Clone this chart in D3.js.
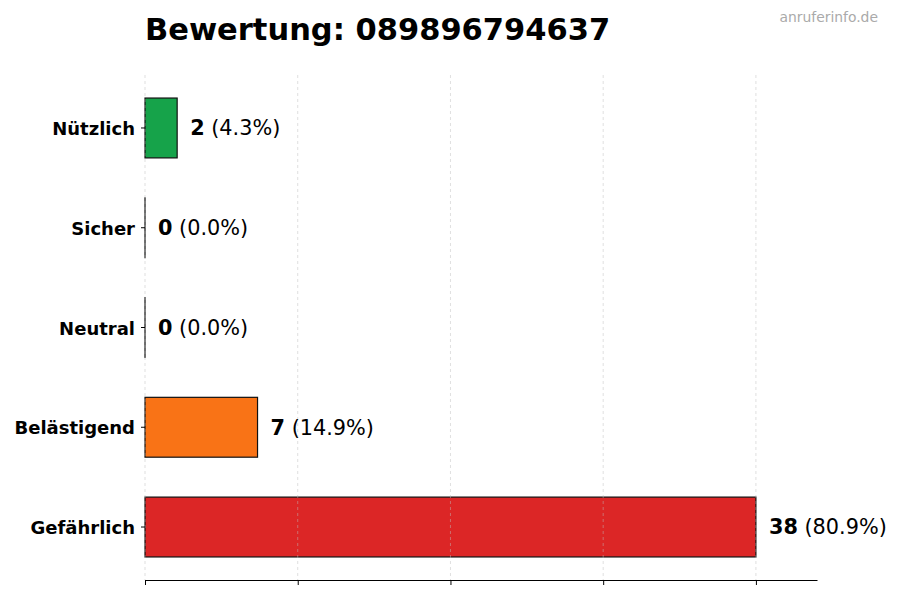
<!DOCTYPE html>
<html lang="de">
<head>
<meta charset="UTF-8">
<title>Bewertung</title>
<script src="https://d3js.org/d3.v7.min.js"></script>
<style>
  body { margin: 0; background: #fff; font-family: "DejaVu Sans", sans-serif; }
  svg { display: block; }
</style>
</head>
<body>
<div id="chart"></div>
<script>
// data
const categories = ["Nützlich", "Sicher", "Neutral", "Belästigend", "Gefährlich"];
const counts = [2, 0, 0, 7, 38];
const percents = ["4.3", "0.0", "0.0", "14.9", "80.9"];
const colors = ["#16a34a", "#22c55e", "#9ca3af", "#f97316", "#dc2626"];
const title = "Bewertung: 089896794637";
const watermark = "anruferinfo.de";

const W = 900, H = 600;
const plot = { left: 145, right: 817, top: 75, bottom: 580 };

const svg = d3.select("#chart").append("svg")
    .attr("width", W).attr("height", H);

const maxVal = d3.max(counts);
const x = d3.scaleLinear()
    .domain([0, maxVal * 1.1])
    .range([plot.left, plot.right]);

const y = d3.scaleBand()
    .domain(categories)
    .range([plot.top, plot.bottom])
    .paddingInner(0.4)
    .paddingOuter(0.231);

const gridTicks = d3.range(0, 5).map(i => maxVal * i / 4);

// bars (zero bars keep a hairline so the edge still shows)
svg.append("g").selectAll("rect")
    .data(categories)
    .join("rect")
    .attr("x", x(0))
    .attr("y", d => y(d))
    .attr("width", (d, i) => Math.max(x(counts[i]) - x(0), 0.01))
    .attr("height", y.bandwidth())
    .attr("fill", (d, i) => colors[i])
    .attr("stroke", "#111")
    .attr("stroke-width", 1.2);

// grid over bars
svg.append("g").selectAll("line")
    .data(gridTicks)
    .join("line")
    .attr("x1", d => x(d)).attr("x2", d => x(d))
    .attr("y1", plot.top).attr("y2", plot.bottom)
    .attr("stroke", "#bbb")
    .attr("stroke-opacity", 0.6)
    .attr("stroke-width", 0.8)
    .attr("stroke-dasharray", "3,3");

// bottom axis (no labels)
const xAxis = svg.append("g")
    .attr("transform", `translate(0,${plot.bottom})`)
    .call(d3.axisBottom(x).tickValues(gridTicks).tickFormat("").tickSize(5).tickSizeOuter(0));
xAxis.select(".domain").attr("stroke", "#000").attr("stroke-width", 1.2);
xAxis.selectAll(".tick line").attr("stroke", "#000").attr("stroke-width", 1);

// left axis: ticks and labels only
const yAxis = svg.append("g")
    .attr("transform", `translate(${plot.left},0)`)
    .call(d3.axisLeft(y).tickSize(4).tickPadding(6).tickSizeOuter(0));
yAxis.select(".domain").remove();
yAxis.selectAll(".tick line").attr("stroke", "#000");
yAxis.selectAll(".tick text")
    .attr("font-family", "DejaVu Sans")
    .attr("font-size", 18)
    .attr("font-weight", "bold")
    .attr("dy", "0.4em")
    .attr("fill", "#000");

// value labels
const lbl = svg.append("g").selectAll("text")
    .data(categories)
    .join("text")
    .attr("x", (d, i) => x(counts[i]) + 13)
    .attr("y", d => y(d) + y.bandwidth() / 2)
    .attr("dy", "0.35em")
    .attr("font-size", 20.8)
    .attr("fill", "#000");
lbl.append("tspan").attr("font-weight", "bold").text((d, i) => counts[i]);
lbl.append("tspan").text((d, i) => ` (${percents[i]}%)`);

// title
svg.append("text")
    .attr("x", plot.left).attr("y", 40)
    .attr("font-size", 30.5)
    .attr("font-weight", "bold")
    .attr("fill", "#000")
    .text(title);

// watermark
svg.append("text")
    .attr("x", 878).attr("y", 22)
    .attr("text-anchor", "end")
    .attr("font-size", 13.9)
    .attr("fill", "#aaa")
    .text(watermark);
</script>
</body>
</html>
